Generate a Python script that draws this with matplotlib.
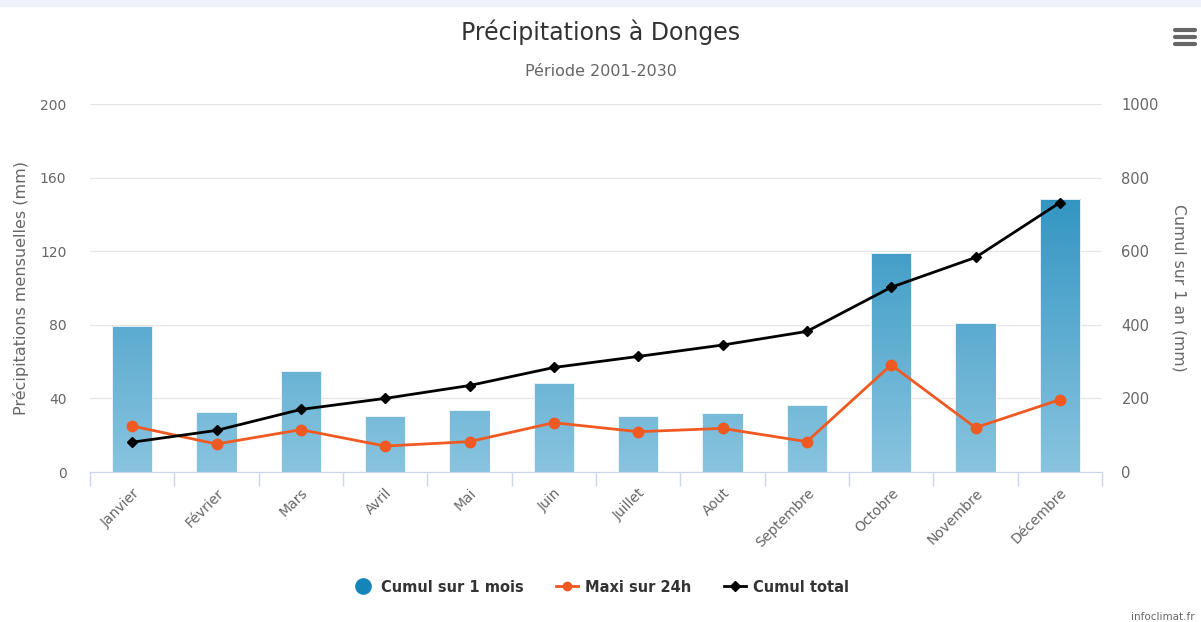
import numpy as np
import matplotlib
matplotlib.use("Agg")
import matplotlib.pyplot as plt
from matplotlib.lines import Line2D
from matplotlib.colors import LinearSegmentedColormap

plt.rcParams['font.family'] = ['DejaVu Sans']

mois = ['Janvier', 'Février', 'Mars', 'Avril', 'Mai', 'Juin', 'Juillet',
        'Aout', 'Septembre', 'Octobre', 'Novembre', 'Décembre']
cumul_mois = [79.5, 32.5, 55, 30.5, 33.5, 48.5, 30.5, 32, 36.5, 119, 81, 148.5]
maxi_24h = [25, 15.2, 23, 14.1, 16.5, 26.8, 21.9, 23.7, 16.5, 58.2, 24.1, 39.3]
cumul_total = [81, 113, 170, 200, 235, 284, 314, 345, 382, 502, 583, 732]

grey_txt = '#666666'
dark_txt = '#333333'
orange = '#f05a22'
axis_col = '#ccd6eb'
grid_col = '#e6e6e6'

fig = plt.figure(figsize=(12.01, 6.22), dpi=100)
ax = fig.add_axes([90 / 1201, 1 - 472 / 622, 1012 / 1201, 368 / 622])
ax2 = ax.twinx()

x = np.arange(len(mois))

# bars, filled with a vertical gradient (dark at top of plot, light at bottom)
cmap = LinearSegmentedColormap.from_list('bleu', ['#89c4df', '#1585b9'])
bars = ax.bar(x, cumul_mois, width=0.48, color='none', edgecolor='white', lw=0.6, zorder=3)
grad = np.linspace(0, 1, 256).reshape(-1, 1)
for b in bars:
    im = ax.imshow(grad, cmap=cmap, origin='lower', aspect='auto',
                   extent=(-0.5, 11.5, 0, 200), zorder=2)
    im.set_clip_path(b)

ax.set_xlim(-0.5, 11.5)
ax.set_ylim(0, 200)
ax.set_yticks([0, 40, 80, 120, 160, 200])
ax.grid(axis='y', color=grid_col, lw=1)
ax.set_axisbelow(True)

ax2.set_ylim(0, 1000)
ax2.set_yticks([0, 200, 400, 600, 800, 1000])

ax.plot(x, maxi_24h, color=orange, lw=2, marker='o', ms=7.5, zorder=4)
ax2.plot(x, cumul_total, color='black', lw=2, marker='D', ms=5.5, zorder=5)

for a in (ax, ax2):
    for s in a.spines.values():
        s.set_visible(False)
ax.spines['bottom'].set_visible(True)
ax.spines['bottom'].set_color(axis_col)

ax.tick_params(axis='y', length=0, labelsize=10, labelcolor=grey_txt, pad=17)
ax2.tick_params(axis='y', length=0, labelsize=10.5, labelcolor=grey_txt, pad=14)

# category boundaries as ticks, labels at centres
ax.set_xticks(np.arange(-0.5, 12, 1))
ax.set_xticklabels([])
ax.tick_params(axis='x', which='major', length=10, color=axis_col, width=1)
ax.set_xticks(x, minor=True)
ax.set_xticklabels(mois, minor=True, rotation=45, ha='right', rotation_mode='anchor',
                   fontsize=10, color=grey_txt)
ax.tick_params(axis='x', which='minor', length=0, pad=10)

ax.set_ylabel('Précipitations mensuelles (mm)', fontsize=11.5, color=grey_txt, labelpad=8)
ax2.set_ylabel('Cumul sur 1 an (mm)', fontsize=11.3, color=grey_txt, rotation=270, labelpad=20)

fig.text(0.5, 1 - 32 / 622, 'Précipitations à Donges', ha='center', va='center',
         fontsize=17, color=dark_txt)
fig.text(0.5, 1 - 72 / 622, 'Période 2001-2030', ha='center', va='center',
         fontsize=11.5, color=grey_txt)

handles = [
    Line2D([], [], ls='none', marker='o', ms=11, color='#1585b9'),
    Line2D([], [], color=orange, lw=2, marker='o', ms=6),
    Line2D([], [], color='black', lw=2, marker='D', ms=5),
]
fig.legend(handles, ['Cumul sur 1 mois', 'Maxi sur 24h', 'Cumul total'],
           loc='center', bbox_to_anchor=(0.5, 1 - 587 / 622), ncol=3, frameon=False,
           prop={'size': 10.5, 'weight': 'bold'}, labelcolor=dark_txt,
           handlelength=1.5, columnspacing=2.2, handletextpad=0.5)

fig.text(1195 / 1201, 1 - 617 / 622, 'infoclimat.fr', ha='right', va='center',
         fontsize=7.5, color=grey_txt)

# top band and menu icon
fig.patches.append(plt.Rectangle((0, 1 - 6 / 622), 1, 6 / 622, transform=fig.transFigure,
                                 color='#eef2fa', zorder=0))
for yy in (30, 37, 44):
    fig.lines.append(Line2D([1175 / 1201, 1195 / 1201], [1 - yy / 622] * 2,
                            transform=fig.transFigure, color='#666666', lw=3,
                            solid_capstyle='round'))

fig.savefig('out.png', dpi=100)
